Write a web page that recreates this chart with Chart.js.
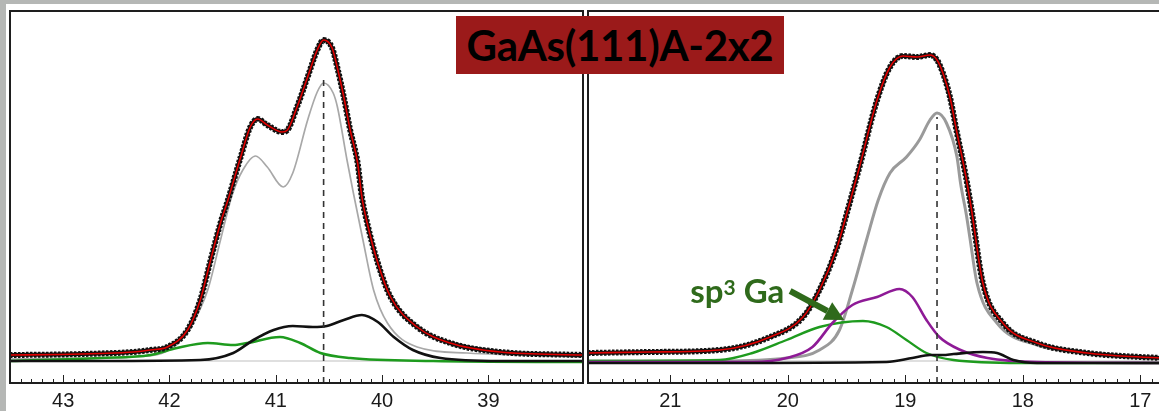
<!DOCTYPE html>
<html><head><meta charset="utf-8">
<script src="https://cdn.jsdelivr.net/npm/chart.js@4.4.1/dist/chart.umd.min.js"></script>
<style>
html,body{margin:0;padding:0;width:1159px;height:411px;overflow:hidden;background:#fff;}
#stripTop{position:absolute;left:0;top:0;width:1159px;height:4px;background:#b5b7b5;z-index:5;}
#stripLeft{position:absolute;left:0;top:0;width:6px;height:411px;background:#b5b7b5;z-index:5;}
#cL{position:absolute;left:0;top:0;}
#cR{position:absolute;left:584px;top:0;}
#title{position:absolute;left:456px;top:16px;width:328px;height:58px;background:#9b1a1a;color:#000;font:bold 42px Lato;line-height:58px;text-align:center;white-space:nowrap;z-index:4;letter-spacing:-0.3px;}
#sp3{position:absolute;color:#2f6a1b;font:bold 33px Lato;line-height:33px;white-space:nowrap;z-index:4;}
#sp3 sup{font-size:21px;vertical-align:top;position:relative;top:-4px;}
</style></head><body>
<div id="stripTop"></div><div id="stripLeft"></div>
<canvas id="cL" width="590" height="411"></canvas>
<canvas id="cR" width="590" height="411"></canvas>
<div id="title">GaAs(111)A-2x2</div>
<div id="sp3">sp<sup>3</sup> Ga</div>
<script>
// ---------- tick labels ----------
const leftTickLabels = [43, 42, 41, 40, 39];
const rightTickLabels = [21, 20, 19, 18, 17];
const minorStep = 0.1;
const leftRange = [38.11, 43.50];
const rightRange = [16.79, 21.70];
const intensityRange = [0, 372];

// ---------- left panel (binding energy, eV / intensity, a.u.) ----------
const leftTotalE = [43.50, 43.03, 42.65, 42.34, 42.18, 42.02, 41.83, 41.71, 41.62, 41.52, 41.45, 41.33, 41.24, 41.17, 41.08, 40.94, 40.89, 40.80, 40.70, 40.61, 40.55, 40.47, 40.42, 40.36, 40.30, 40.23, 40.19, 40.14, 40.04, 39.92, 39.67, 39.36, 38.89, 38.11];
const leftTotalI = [28, 28.5, 29.5, 31, 33, 36, 53, 83, 120, 160, 183, 226, 256, 264, 258, 251, 253, 276, 306, 333, 343, 335, 315, 286, 253, 220, 186, 160, 120, 86, 56, 40, 31, 28];
const leftGrayE = [43.50, 42.65, 42.34, 41.96, 41.78, 41.64, 41.52, 41.41, 41.31, 41.19, 41.08, 40.93, 40.84, 40.70, 40.61, 40.55, 40.46, 40.42, 40.33, 40.27, 40.18, 40.08, 39.95, 39.67, 39.20, 38.11];
const leftGrayI = [24, 25, 26, 36, 60, 93, 143, 188, 213, 227, 216, 196, 210, 263, 291, 300, 290, 276, 223, 190, 143, 93, 60, 36, 30, 26];
const leftBlackE = [43.50, 42.65, 41.71, 41.40, 41.21, 41.02, 40.84, 40.65, 40.52, 40.36, 40.19, 40.04, 39.89, 39.71, 39.45, 38.89, 38.11];
const leftBlackI = [22, 22, 23, 30, 43, 53, 57, 56, 57, 63, 68, 61, 46, 33, 25, 22, 22];
const leftGreenE = [43.50, 42.65, 42.18, 41.93, 41.64, 41.40, 41.27, 40.96, 40.77, 40.58, 40.30, 39.52, 38.11];
const leftGreenI = [22, 25, 28, 35, 40, 38, 40, 46, 40, 30, 25, 22, 21];
const leftBaseE = [43.50, 38.11];
const leftBaseI = [22, 22];
const leftMarkE = 40.55;
const leftMarkTop = 308;

// ---------- right panel ----------
const rightTotalE = [21.70, 21.18, 20.58, 20.15, 19.87, 19.73, 19.58, 19.49, 19.39, 19.24, 19.13, 19.02, 18.90, 18.79, 18.73, 18.68, 18.62, 18.56, 18.49, 18.44, 18.34, 18.17, 17.88, 17.45, 17.00, 16.79];
const rightTotalI = [30, 31, 33, 46, 66, 93, 136, 173, 216, 283, 316, 327, 326, 328, 323, 310, 286, 250, 210, 176, 100, 60, 40, 30, 26, 25];
const rightGrayE = [21.70, 20.58, 20.01, 19.73, 19.56, 19.45, 19.33, 19.23, 19.13, 18.99, 18.88, 18.79, 18.73, 18.65, 18.56, 18.53, 18.48, 18.45, 18.39, 18.22, 17.88, 17.45, 17.00, 16.79];
const rightGrayI = [22, 22, 25, 33, 53, 93, 143, 183, 210, 226, 243, 263, 270, 260, 226, 200, 168, 145, 100, 60, 38, 30, 26, 25];
const rightPurpleE = [21.70, 20.30, 20.01, 19.79, 19.62, 19.45, 19.24, 19.05, 18.94, 18.82, 18.71, 18.53, 18.30, 17.88, 16.79];
const rightPurpleI = [21, 21, 25, 36, 60, 78, 86, 94, 86, 63, 46, 33, 25, 21, 20];
const rightGreenE = [21.70, 20.58, 20.30, 20.01, 19.73, 19.36, 19.16, 18.99, 18.82, 18.59, 18.02, 16.79];
const rightGreenI = [22, 23, 30, 43, 56, 62, 56, 43, 30, 23, 20, 20];
const rightBlackE = [21.70, 20.58, 19.16, 18.94, 18.79, 18.68, 18.59, 18.34, 18.22, 18.08, 17.88, 16.79];
const rightBlackI = [20, 20, 21, 25, 28, 28, 29, 31, 30, 23, 20, 20];
const rightBaseE = [21.70, 16.79];
const rightBaseI = [22, 22];
const rightMarkE = 18.73;
const rightMarkTop = 266;

// annotation anchor (eV, a.u.)
const labelAnchor = {e: 20.83, i: 81};
const arrowFrom = {e: 19.98, i: 92};
const arrowTo = {e: 19.52, i: 63};

// ---------- helpers ----------
const pts = (E, I) => E.map((e, k) => ({x: e, y: I[k]}));
const line = (data, color, width, order, extra) => Object.assign({
  data, borderColor: color, borderWidth: width, pointRadius: 0, fill: false,
  cubicInterpolationMode: 'monotone', order
}, extra || {});

const framePlugin = {
  id: 'frame',
  afterDatasetsDraw(chart) {
    const {ctx, chartArea: a, scales: {x}} = chart;
    ctx.save();
    ctx.strokeStyle = '#222'; ctx.lineWidth = 1;
    const lo = Math.min(x.min, x.max), hi = Math.max(x.min, x.max);
    for (let k = Math.ceil(lo / minorStep); k <= Math.floor(hi / minorStep); k++) {
      const v = k * minorStep;
      const px = Math.round(x.getPixelForValue(v)) + 0.5;
      const len = (k % 10 === 0) ? 8 : 4;
      ctx.beginPath(); ctx.moveTo(px, a.bottom); ctx.lineTo(px, a.bottom - len); ctx.stroke();
    }
    ctx.lineWidth = 2; ctx.strokeStyle = '#1e1e1e';
    ctx.strokeRect(a.left, a.top, a.right - a.left, a.bottom - a.top);
    ctx.restore();
  }
};

const arrowPlugin = {
  id: 'arrow',
  afterDatasetsDraw(chart) {
    if (chart.canvas.id !== 'cR') return;
    const {ctx, scales: {x, y}} = chart;
    const x0 = x.getPixelForValue(arrowFrom.e), y0 = y.getPixelForValue(arrowFrom.i);
    const x1 = x.getPixelForValue(arrowTo.e), y1 = y.getPixelForValue(arrowTo.i);
    const ang = Math.atan2(y1 - y0, x1 - x0);
    const head = 19, hw = 10;
    const bx = x1 - head * Math.cos(ang), by = y1 - head * Math.sin(ang);
    ctx.save();
    ctx.strokeStyle = '#2f6a1b'; ctx.fillStyle = '#2f6a1b';
    ctx.lineWidth = 6; ctx.lineCap = 'butt';
    ctx.beginPath(); ctx.moveTo(x0, y0); ctx.lineTo(bx, by); ctx.stroke();
    ctx.beginPath();
    ctx.moveTo(x1, y1);
    ctx.lineTo(bx + hw * Math.sin(ang), by - hw * Math.cos(ang));
    ctx.lineTo(bx - hw * Math.sin(ang), by + hw * Math.cos(ang));
    ctx.closePath(); ctx.fill();
    ctx.restore();
    const lab = document.getElementById('sp3');
    const cx = chart.canvas.offsetLeft;
    lab.style.left = (cx + x.getPixelForValue(labelAnchor.e)) + 'px';
    lab.style.top = (y.getPixelForValue(labelAnchor.i) - 28) + 'px';
  }
};

function makeChart(id, range, ticks, sets, pad) {
  return new Chart(document.getElementById(id), {
    type: 'line',
    data: {datasets: sets},
    plugins: [framePlugin, arrowPlugin],
    options: {
      responsive: false, animation: false, events: [],
      layout: {padding: pad},
      plugins: {legend: {display: false}, tooltip: {enabled: false}},
      scales: {
        x: {
          type: 'linear', reverse: true, min: range[0], max: range[1],
          afterBuildTicks: s => { s.ticks = ticks.map(v => ({value: v})); },
          afterFit: s => { s.height = 28; },
          ticks: {font: {family: 'Liberation Sans', size: 20}, color: '#1a1a1a', padding: 6, maxRotation: 0, autoSkip: false},
          grid: {drawOnChartArea: false, drawTicks: false},
          border: {display: false}
        },
        y: {display: false, min: intensityRange[0], max: intensityRange[1]}
      }
    }
  });
}

const dash = {borderDash: [6, 5], cubicInterpolationMode: 'default', tension: 0};

makeChart('cL', leftRange, leftTickLabels, [
  line(pts(leftTotalE, leftTotalI), '#e00000', 1.6, 0),
  line(pts(leftTotalE, leftTotalI), '#111', 6, 1, {borderDash: [2.5, 1.5]}),
  line(pts(leftTotalE, leftTotalI), '#111', 4, 2),
  line(pts([leftMarkE, leftMarkE], [0, leftMarkTop]), '#333', 1.6, 3, dash),
  line(pts(leftBlackE, leftBlackI), '#111', 2.6, 4),
  line(pts(leftGreenE, leftGreenI), '#1e9b1e', 2.6, 5),
  line(pts(leftGrayE, leftGrayI), '#a8a8a8', 1.7, 6),
  line(pts(leftBaseE, leftBaseI), '#d4d4d4', 1.5, 7)
], {left: 10, right: 7, top: 11, bottom: 0});

makeChart('cR', rightRange, rightTickLabels, [
  line(pts(rightTotalE, rightTotalI), '#e00000', 1.6, 0),
  line(pts(rightTotalE, rightTotalI), '#111', 6, 1, {borderDash: [2.5, 1.5]}),
  line(pts(rightTotalE, rightTotalI), '#111', 4, 2),
  line(pts([rightMarkE, rightMarkE], [0, rightMarkTop]), '#333', 1.6, 3, dash),
  line(pts(rightBlackE, rightBlackI), '#111', 2.6, 4),
  line(pts(rightPurpleE, rightPurpleI), '#8e1a96', 2.6, 5),
  line(pts(rightGreenE, rightGreenI), '#1e9b1e', 2.4, 6),
  line(pts(rightGrayE, rightGrayI), '#9a9a9a', 3, 7),
  line(pts(rightBaseE, rightBaseI), '#d4d4d4', 1.5, 8)
], {left: 4, right: 9, top: 11, bottom: 0});
</script>
</body></html>
